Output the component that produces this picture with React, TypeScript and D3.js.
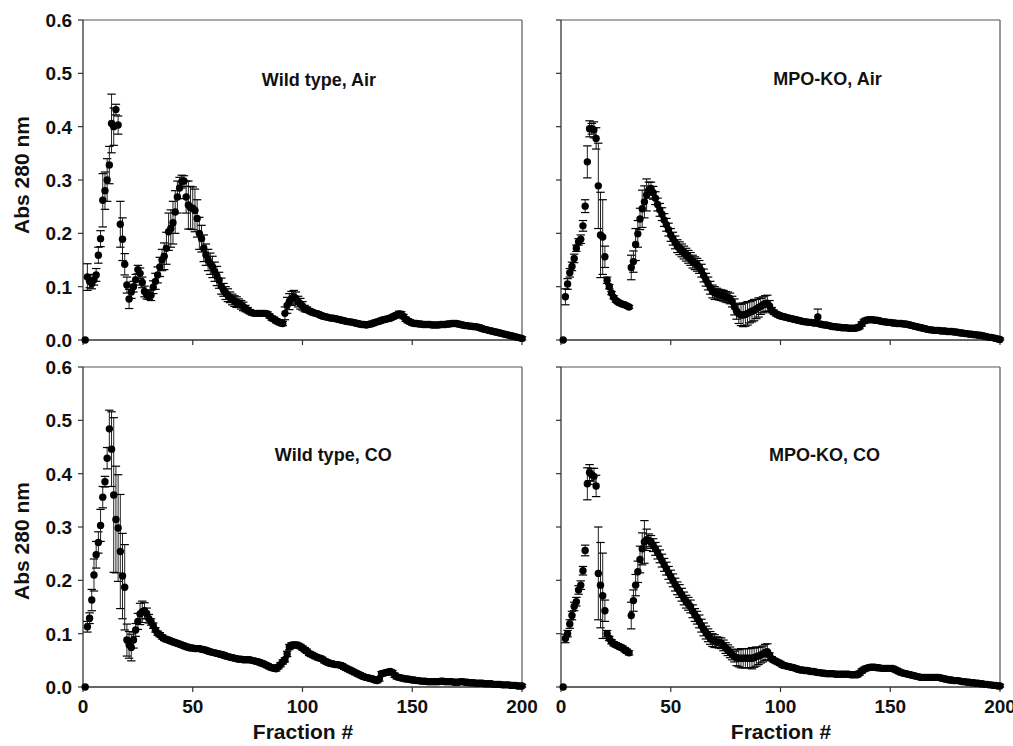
import React from "react";
import * as d3 from "d3";

// Fraction numbers 1..200 (fraction 1 reads 0.0 in every run)
const FRACTIONS: number[] = d3.range(1, 201);
const X_TICKS = [0, 50, 100, 150, 200];
const Y_TICKS = [0, 0.1, 0.2, 0.3, 0.4, 0.5, 0.6];

const WT_AIR = [
  0, .118, .110, .106, .113, .122, .159, .190, .262, .280,
  .300, .328, .406, .400, .432, .403, .217, .189, .142, .103,
  .077, .090, .100, .113, .132, .125, .108, .091, .085, .084,
  .084, .099, .110, .122, .137, .150, .157, .172, .203, .209,
  .220, .240, .268, .285, .297, .298, .268, .253, .248, .247,
  .243, .228, .200, .190, .172, .160, .150, .143, .137, .128,
  .120, .112, .101, .094, .088, .084, .080, .076, .073, .071,
  .069, .066, .063, .059, .056, .053, .051, .050, .050, .050,
  .050, .050, .050, .049, .045, .041, .039, .036, .034, .032,
  .031, .050, .065, .072, .078, .081, .078, .072, .068, .064,
  .059, .057, .055, .053, .051, .050, .049, .047, .045, .044,
  .043, .042, .041, .041, .040, .039, .038, .037, .036, .035,
  .034, .034, .033, .032, .031, .030, .029, .029, .028, .029,
  .030, .031, .033, .034, .035, .037, .038, .039, .040, .041,
  .043, .045, .047, .049, .048, .044, .039, .036, .034, .032,
  .031, .031, .030, .030, .029, .029, .029, .029, .028, .028,
  .028, .028, .029, .029, .029, .030, .030, .031, .031, .031,
  .030, .029, .028, .027, .027, .026, .026, .025, .025, .024,
  .023, .021, .020, .019, .018, .017, .016, .015, .014, .013,
  .012, .011, .010, .009, .008, .007, .006, .005, .004, .003,
];
const WT_AIR_ERR = [
  0, .025, .012, .010, .010, .012, .015, .015, .050, .035,
  .040, .035, .055, .035, .010, .017, .043, .040, .020, .015,
  .018, .012, .010, .010, .008, .010, .010, .010, .008, .008,
  .010, .012, .015, .015, .018, .020, .025, .030, .035, .035,
  .040, .040, .030, .020, .012, .010, .030, .045, .040, .040,
  .040, .035, .030, .025, .025, .020, .020, .020, .020, .018,
  .018, .015, .015, .012, .012, .012, .010, .010, .010, .010,
  .008, .008, .008, .006, .005, .004, .004, .004, .004, .004,
  .004, .004, .004, .004, .004, .004, .004, .004, .004, .004,
  .004, .012, .015, .015, .013, .012, .012, .010, .010, .008,
  .006, .005, .004, .004, .004, .004, .004, .004, .004, .004,
  .004, .004, .004, .004, .004, .004, .004, .004, .004, .004,
  .004, .004, .004, .004, .004, .004, .004, .004, .004, .004,
  .004, .004, .004, .004, .004, .004, .004, .004, .004, .004,
  .004, .004, .004, .005, .005, .004, .004, .004, .004, .004,
  .004, .004, .004, .004, .004, .004, .004, .004, .004, .004,
  .004, .004, .004, .004, .004, .004, .004, .004, .004, .004,
  .004, .004, .004, .004, .004, .004, .004, .004, .004, .004,
  .004, .004, .004, .004, .004, .004, .004, .004, .004, .004,
  .004, .004, .004, .004, .003, .003, .003, .003, .003, .003,
];

const MPO_AIR = [
  0, .081, .105, .126, .138, .153, .172, .184, .189, .214,
  .251, .334, .396, .396, .394, .378, .289, .197, .193, .156,
  .112, .100, .088, .080, .074, .071, .069, .067, .066, .064,
  .062, .136, .147, .179, .199, .227, .246, .259, .272, .281,
  .284, .276, .266, .254, .244, .236, .225, .216, .207, .197,
  .190, .183, .176, .172, .168, .164, .160, .156, .152, .147,
  .144, .141, .137, .130, .121, .113, .106, .098, .091, .088,
  .087, .085, .084, .083, .081, .080, .078, .072, .062, .054,
  .049, .047, .047, .048, .050, .052, .054, .056, .058, .061,
  .063, .066, .068, .069, .064, .056, .052, .049, .047, .045,
  .044, .043, .042, .041, .040, .039, .038, .037, .036, .035,
  .034, .034, .033, .033, .032, .032, .043, .030, .029, .028,
  .028, .027, .026, .025, .025, .024, .024, .023, .023, .023,
  .022, .022, .022, .022, .023, .025, .030, .035, .037, .038,
  .038, .038, .037, .037, .036, .035, .034, .034, .033, .033,
  .032, .032, .031, .031, .031, .030, .030, .029, .028, .027,
  .026, .025, .024, .023, .022, .021, .020, .019, .019, .018,
  .018, .018, .017, .017, .017, .016, .016, .016, .015, .015,
  .014, .013, .013, .012, .012, .011, .011, .010, .010, .009,
  .009, .008, .007, .006, .005, .005, .004, .003, .002, .001,
];
const MPO_AIR_ERR = [
  0, .015, .010, .008, .008, .008, .006, .006, .008, .010,
  .012, .030, .015, .010, .015, .020, .080, .080, .070, .020,
  .006, .004, .003, .003, .003, .003, .003, .003, .003, .003,
  .003, .023, .020, .030, .025, .020, .035, .030, .030, .015,
  .012, .012, .012, .012, .012, .012, .012, .012, .012, .012,
  .012, .012, .012, .012, .012, .012, .012, .012, .012, .012,
  .012, .012, .012, .012, .012, .012, .012, .012, .012, .012,
  .010, .010, .010, .010, .010, .010, .010, .010, .015, .015,
  .018, .020, .022, .022, .022, .020, .020, .020, .018, .018,
  .015, .015, .015, .015, .010, .005, .004, .004, .004, .004,
  .004, .004, .004, .004, .004, .004, .004, .004, .004, .004,
  .004, .004, .004, .004, .004, .004, .015, .004, .004, .004,
  .004, .004, .004, .004, .004, .004, .004, .004, .004, .004,
  .004, .004, .004, .004, .004, .004, .004, .004, .004, .004,
  .004, .004, .004, .004, .004, .004, .004, .004, .004, .004,
  .004, .004, .004, .004, .004, .004, .004, .004, .004, .004,
  .004, .004, .004, .004, .004, .004, .004, .004, .004, .004,
  .004, .004, .004, .004, .004, .004, .004, .004, .004, .004,
  .004, .004, .004, .004, .004, .004, .004, .004, .004, .004,
  .003, .003, .003, .003, .003, .003, .003, .003, .003, .003,
];

const WT_CO = [
  0, .113, .129, .163, .210, .248, .271, .303, .356, .385,
  .429, .484, .446, .360, .314, .298, .254, .208, .187, .088,
  .079, .074, .088, .107, .123, .137, .141, .143, .138, .128,
  .122, .115, .107, .101, .098, .094, .091, .089, .088, .086,
  .085, .083, .082, .080, .079, .077, .076, .074, .073, .073,
  .072, .072, .072, .071, .070, .069, .067, .066, .065, .064,
  .063, .062, .061, .060, .058, .057, .056, .055, .054, .053,
  .052, .052, .051, .051, .051, .051, .050, .049, .048, .047,
  .045, .044, .042, .040, .038, .036, .035, .034, .038, .042,
  .047, .051, .062, .075, .078, .079, .079, .078, .076, .073,
  .070, .067, .063, .061, .059, .057, .055, .054, .052, .049,
  .047, .045, .044, .043, .042, .042, .041, .040, .037, .035,
  .033, .031, .029, .027, .025, .023, .021, .019, .018, .017,
  .016, .015, .013, .012, .015, .025, .026, .027, .028, .029,
  .027, .022, .019, .018, .017, .016, .015, .015, .014, .013,
  .013, .012, .012, .011, .011, .011, .010, .010, .010, .010,
  .010, .010, .011, .011, .010, .010, .010, .010, .009, .009,
  .009, .010, .010, .009, .009, .008, .008, .008, .007, .007,
  .007, .007, .006, .006, .006, .006, .005, .005, .005, .005,
  .004, .004, .004, .004, .003, .003, .003, .002, .002, .002,
];
const WT_CO_ERR = [
  0, .010, .010, .020, .030, .025, .020, .030, .020, .010,
  .020, .035, .070, .145, .100, .100, .107, .080, .080, .030,
  .025, .025, .015, .012, .015, .020, .020, .015, .010, .008,
  .006, .005, .004, .004, .004, .004, .004, .004, .004, .004,
  .004, .004, .004, .004, .004, .004, .004, .004, .004, .004,
  .004, .004, .004, .004, .004, .004, .004, .004, .004, .004,
  .004, .004, .004, .004, .004, .004, .004, .004, .004, .004,
  .004, .004, .004, .004, .004, .004, .004, .004, .004, .004,
  .004, .004, .004, .004, .004, .004, .004, .004, .004, .004,
  .004, .004, .005, .005, .005, .005, .005, .004, .004, .004,
  .004, .004, .004, .004, .004, .004, .004, .004, .004, .004,
  .004, .004, .004, .004, .004, .004, .004, .004, .004, .004,
  .004, .004, .004, .004, .004, .004, .004, .004, .004, .004,
  .004, .004, .004, .004, .004, .004, .004, .004, .004, .004,
  .004, .004, .004, .004, .004, .004, .004, .004, .004, .004,
  .004, .004, .004, .004, .004, .004, .004, .004, .004, .004,
  .004, .004, .004, .004, .004, .004, .004, .004, .004, .004,
  .004, .004, .004, .004, .004, .004, .004, .004, .004, .004,
  .003, .003, .003, .003, .003, .003, .003, .003, .003, .003,
  .003, .003, .003, .003, .003, .003, .003, .003, .003, .003,
];

const MPO_CO = [
  0, .091, .100, .118, .134, .151, .160, .182, .191, .218,
  .256, .381, .402, .398, .395, .377, .213, .191, .171, .143,
  .100, .091, .085, .081, .079, .077, .075, .073, .070, .067,
  .064, .134, .162, .191, .216, .239, .259, .272, .276, .275,
  .272, .266, .259, .252, .245, .237, .229, .222, .214, .207,
  .200, .192, .185, .180, .173, .166, .160, .156, .151, .142,
  .135, .130, .123, .115, .108, .102, .097, .092, .088, .086,
  .084, .083, .082, .078, .073, .069, .065, .061, .057, .055,
  .054, .054, .054, .054, .054, .054, .054, .055, .057, .058,
  .060, .062, .065, .066, .060, .053, .050, .048, .046, .044,
  .041, .040, .039, .038, .037, .036, .035, .033, .032, .032,
  .031, .031, .030, .029, .029, .028, .027, .027, .026, .026,
  .025, .025, .025, .025, .024, .024, .024, .024, .024, .024,
  .024, .023, .023, .023, .023, .026, .030, .033, .035, .036,
  .037, .037, .037, .036, .036, .035, .035, .035, .035, .035,
  .035, .033, .031, .029, .027, .026, .025, .024, .023, .022,
  .021, .020, .019, .018, .018, .018, .018, .018, .018, .018,
  .018, .018, .017, .016, .015, .014, .013, .013, .012, .012,
  .012, .011, .010, .010, .009, .009, .008, .008, .007, .007,
  .006, .006, .005, .005, .004, .004, .003, .003, .002, .002,
];
const MPO_CO_ERR = [
  0, .008, .006, .008, .008, .008, .008, .008, .008, .008,
  .010, .030, .015, .012, .015, .020, .087, .080, .080, .020,
  .006, .004, .004, .004, .004, .004, .004, .004, .004, .004,
  .004, .025, .020, .020, .020, .025, .030, .040, .020, .012,
  .012, .012, .012, .012, .012, .012, .012, .012, .012, .012,
  .012, .012, .012, .012, .012, .012, .012, .012, .012, .012,
  .012, .012, .012, .012, .012, .012, .012, .012, .012, .012,
  .010, .010, .010, .010, .010, .010, .010, .010, .010, .015,
  .016, .018, .018, .018, .018, .018, .020, .018, .018, .016,
  .015, .015, .015, .015, .004, .004, .004, .004, .004, .004,
  .004, .004, .004, .004, .004, .004, .004, .004, .004, .004,
  .004, .004, .004, .004, .004, .004, .004, .004, .004, .004,
  .004, .004, .004, .004, .004, .004, .004, .004, .004, .004,
  .004, .004, .004, .004, .004, .004, .004, .004, .004, .004,
  .004, .004, .004, .004, .004, .004, .004, .004, .004, .004,
  .004, .004, .004, .004, .004, .004, .004, .004, .004, .004,
  .004, .004, .004, .004, .004, .004, .004, .004, .004, .004,
  .004, .004, .004, .004, .004, .004, .004, .004, .004, .004,
  .003, .003, .003, .003, .003, .003, .003, .003, .003, .003,
  .003, .003, .003, .003, .003, .003, .003, .003, .003, .003,
];

const TITLES = ["Wild type, Air", "MPO-KO, Air", "Wild type, CO", "MPO-KO, CO"];
// title anchor positions in data units [fraction, absorbance]
const TITLE_POS: [number, number][] = [[107.5, 0.476], [121.4, 0.478], [114, 0.424], [120, 0.424]];

const FONT = "'Liberation Sans', Arial, Helvetica, sans-serif";
const PW = 439;
const PH = 320;

const panels = [
  { values: WT_AIR, errors: WT_AIR_ERR, left: 83, top: 20, yLabels: true, xLabels: false },
  { values: MPO_AIR, errors: MPO_AIR_ERR, left: 561, top: 20, yLabels: false, xLabels: false },
  { values: WT_CO, errors: WT_CO_ERR, left: 83, top: 367, yLabels: true, xLabels: true },
  { values: MPO_CO, errors: MPO_CO_ERR, left: 561, top: 367, yLabels: false, xLabels: true },
];

function Panel({ p, idx }: { p: typeof panels[number]; idx: number }) {
  const x = d3.scaleLinear().domain([0, 200]).range([p.left, p.left + PW]);
  const y = d3.scaleLinear().domain([0, 0.6]).range([p.top + PH, p.top]);
  const fmt = d3.format(".1f");
  const bottom = p.top + PH;
  const capW = 4.2;
  return (
    <g>
      {/* frame */}
      <line x1={p.left} x2={p.left + PW} y1={p.top} y2={p.top} stroke="#555" strokeWidth={1.2} />
      <line x1={p.left + PW} x2={p.left + PW} y1={p.top} y2={bottom} stroke="#555" strokeWidth={1.2} />
      <line x1={p.left} x2={p.left} y1={p.top} y2={bottom} stroke="#333" strokeWidth={1.3} />
      <line x1={p.left} x2={p.left + PW} y1={bottom} y2={bottom} stroke="#333" strokeWidth={1.3} />
      {Y_TICKS.map((t) => (
        <g key={"y" + t}>
          <line x1={p.left - 5} x2={p.left} y1={y(t)} y2={y(t)} stroke="#333" strokeWidth={1.2} />
          {p.yLabels && (
            <text x={p.left - 11} y={y(t)} dy="0.36em" textAnchor="end" fontFamily={FONT}
              fontWeight="bold" fontSize={19} fill="#111">{fmt(t)}</text>
          )}
        </g>
      ))}
      {X_TICKS.map((t) => (
        <g key={"x" + t}>
          <line x1={x(t)} x2={x(t)} y1={bottom} y2={bottom + 5} stroke="#333" strokeWidth={1.2} />
          {p.xLabels && (
            <text x={x(t)} y={bottom + 26} textAnchor="middle" fontFamily={FONT}
              fontWeight="bold" fontSize={19} fill="#111">{t}</text>
          )}
        </g>
      ))}
      {/* error bars */}
      {FRACTIONS.map((f, i) => {
        const v = p.values[i];
        const e = p.errors[i];
        if (!e) return null;
        const cx = x(f);
        const yt = y(v + e);
        const yb = y(Math.max(0, v - e));
        return (
          <g key={"e" + f}>
            <line x1={cx} x2={cx} y1={yt} y2={yb} stroke="#222" strokeWidth={1} />
            <line x1={cx - capW} x2={cx + capW} y1={yt} y2={yt} stroke="#000" strokeWidth={1.2} />
            <line x1={cx - capW} x2={cx + capW} y1={yb} y2={yb} stroke="#000" strokeWidth={1.2} />
          </g>
        );
      })}
      {/* points */}
      {FRACTIONS.map((f, i) => (
        <circle key={"c" + f} cx={x(f)} cy={y(p.values[i])} r={3.7} fill="#000" />
      ))}
      <text x={x(TITLE_POS[idx][0])} y={y(TITLE_POS[idx][1])} textAnchor="middle" fontFamily={FONT}
        fontWeight="bold" fontSize={18} fill="#111">{TITLES[idx]}</text>
    </g>
  );
}

export default function App() {
  return (
    <svg width={1013} height={746} style={{ position: "absolute", left: 0, top: 0, background: "#fff" }}>
      <rect x={0} y={0} width={1013} height={746} fill="#fff" />
      {panels.map((p, i) => (
        <Panel key={i} p={p} idx={i} />
      ))}
      <text transform="translate(29,175) rotate(-90)" textAnchor="middle" fontFamily={FONT}
        fontWeight="bold" fontSize={21} fill="#111">Abs 280 nm</text>
      <text transform="translate(29,541) rotate(-90)" textAnchor="middle" fontFamily={FONT}
        fontWeight="bold" fontSize={21} fill="#111">Abs 280 nm</text>
      <text x={303} y={739} textAnchor="middle" fontFamily={FONT} fontWeight="bold" fontSize={21} fill="#111">Fraction #</text>
      <text x={781} y={739} textAnchor="middle" fontFamily={FONT} fontWeight="bold" fontSize={21} fill="#111">Fraction #</text>
    </svg>
  );
}
